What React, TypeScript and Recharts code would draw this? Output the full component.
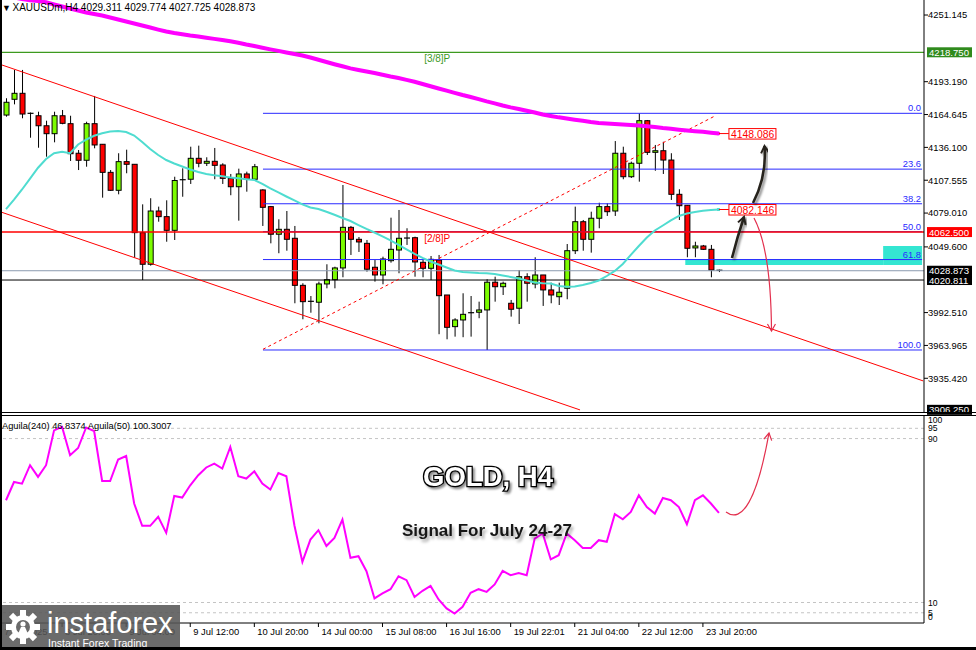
import {
  ComposedChart,
  Bar,
  Line,
  XAxis,
  YAxis,
  ReferenceLine,
  ReferenceArea,
  ReferenceDot,
} from "recharts";

const FONT = "'Liberation Sans', Arial, sans-serif";

// H4 candles
const opens = [
  4164.2, 4177.9, 4183.1, 4165.7, 4163.6, 4154.9, 4148.0, 4163.6, 4156.7, 4131.0,
  4124.9, 4156.7, 4138.8, 4114.4, 4098.8, 4123.7, 4121.4, 4062.0, 4034.5, 4080.8,
  4075.9, 4064.0, 4107.1, 4108.4, 4126.6, 4122.3, 4124.0, 4120.8, 4109.2, 4101.9,
  4113.0, 4108.4, 4099.1, 4084.6, 4060.6, 4064.9, 4057.1, 4016.2, 4002.3, 4001.5,
  4017.4, 4021.1, 4031.3, 4066.6, 4056.2, 4052.7, 4031.9, 4025.2, 4037.6, 4046.9,
  4057.3, 4057.6, 4036.2, 4031.0, 4038.2, 4007.8, 3980.3, 3986.1, 3992.4, 3992.8,
  3994.8, 4018.9, 4015.0, 4000.6, 3996.3, 4023.7, 4017.4, 4025.2, 4012.2, 4006.3,
  4013.6, 4046.3, 4071.5, 4056.2, 4074.5, 4084.6, 4080.8, 4131.0, 4110.6, 4122.3,
  4159.3, 4131.8, 4133.2, 4125.1, 4095.3, 4085.8, 4048.7, 4050.4, 4047.5, 4029.311,
];
const highs = [
  4178.8, 4203.4, 4203.4, 4166.4, 4167.1, 4159.3, 4167.1, 4168.6, 4163.6, 4133.8,
  4158.4, 4180.8, 4138.8, 4116.4, 4131.0, 4134.1, 4121.4, 4086.6, 4091.9, 4084.6,
  4090.1, 4110.6, 4117.9, 4136.7, 4137.6, 4127.5, 4135.6, 4122.3, 4113.0, 4117.6,
  4115.0, 4121.7, 4099.7, 4085.2, 4073.6, 4080.8, 4067.8, 4018.0, 4006.9, 4019.4,
  4034.5, 4032.4, 4103.4, 4067.8, 4058.2, 4055.6, 4038.2, 4041.1, 4075.0, 4081.7,
  4065.8, 4058.5, 4038.2, 4041.7, 4042.6, 4007.8, 3987.6, 4009.3, 4006.9, 4002.0,
  4021.5, 4023.7, 4019.4, 4003.5, 4029.5, 4026.7, 4040.6, 4025.2, 4018.5, 4018.5,
  4052.1, 4084.6, 4073.0, 4080.2, 4088.0, 4087.5, 4141.6, 4136.7, 4123.7, 4165.7,
  4159.9, 4138.2, 4141.0, 4131.0, 4099.7, 4086.0, 4054.1, 4051.3, 4051.3, 4029.774,
];
const lows = [
  4162.8, 4173.5, 4161.4, 4144.5, 4135.8, 4128.0, 4140.5, 4156.2, 4124.3, 4116.4,
  4119.3, 4135.3, 4092.4, 4098.2, 4095.3, 4113.6, 4040.2, 4020.8, 4033.3, 4071.5,
  4054.1, 4055.6, 4093.2, 4104.3, 4118.8, 4119.9, 4108.4, 4104.3, 4094.5, 4072.4,
  4097.6, 4107.5, 4067.8, 4052.7, 4044.1, 4046.3, 4000.6, 3986.7, 3992.4, 3983.2,
  4013.6, 4013.6, 4023.2, 4042.6, 4045.2, 4028.1, 4019.4, 4017.1, 4035.9, 4026.7,
  4051.3, 4023.7, 4023.2, 4020.8, 3973.7, 3969.3, 3971.6, 3971.1, 3971.6, 3987.6,
  3960.0, 4002.0, 4007.8, 3989.0, 3982.6, 4002.0, 4013.6, 3998.3, 4000.6, 3999.1,
  4004.1, 4043.4, 4046.3, 4044.6, 4065.8, 4076.5, 4076.5, 4108.4, 4109.5, 4106.3,
  4129.5, 4115.8, 4113.0, 4090.4, 4073.0, 4040.6, 4040.6, 4046.9, 4023.2, 4027.725,
];
const closes = [
  4175.3, 4183.1, 4165.1, 4164.9, 4154.9, 4148.0, 4163.6, 4157.0, 4130.6, 4124.9,
  4156.7, 4138.2, 4114.4, 4098.8, 4123.7, 4121.4, 4062.0, 4034.5, 4080.8, 4075.9,
  4064.0, 4107.3, 4108.0, 4126.6, 4122.3, 4124.0, 4120.5, 4109.2, 4101.9, 4113.0,
  4108.4, 4119.3, 4084.0, 4060.6, 4064.9, 4056.2, 4016.2, 4002.0, 4001.5, 4017.4,
  4021.1, 4031.3, 4066.6, 4056.2, 4053.9, 4030.2, 4025.2, 4039.1, 4047.5, 4057.1,
  4056.7, 4036.5, 4031.0, 4038.8, 4007.2, 3979.7, 3986.1, 3991.0, 3991.9, 3994.8,
  4018.9, 4015.0, 4018.0, 3995.4, 4023.7, 4018.0, 4025.2, 4012.2, 4007.8, 4010.2,
  4046.3, 4071.5, 4056.2, 4074.5, 4084.6, 4080.2, 4131.0, 4110.6, 4122.3, 4159.3,
  4131.8, 4133.2, 4125.1, 4095.3, 4085.4, 4048.4, 4050.4, 4047.5, 4029.5, 4028.873,
];

// fast MA (turquoise) and slow MA (magenta)
const maFast = [
  4082.5, 4090.6, 4099.5, 4109.0, 4118.4, 4126.0, 4131.0, 4132.3, 4131.0, 4138.6,
  4142.9, 4146.2, 4148.4, 4149.9, 4150.3, 4149.5, 4146.4, 4140.8, 4134.7, 4129.5,
  4125.1, 4122.1, 4119.5, 4116.9, 4114.7, 4113.0, 4111.8, 4111.0, 4109.9, 4109.2,
  4108.5, 4107.8, 4104.3, 4100.4, 4096.9, 4093.4, 4090.0, 4086.6, 4083.9, 4082.5,
  4080.1, 4077.5, 4074.7, 4072.1, 4068.6, 4065.2, 4062.1, 4058.7, 4055.2, 4051.3,
  4047.4, 4043.6, 4040.0, 4036.9, 4034.3, 4031.7, 4029.1, 4027.8, 4027.4, 4026.9,
  4026.8, 4026.1, 4024.8, 4023.5, 4022.2, 4020.4, 4018.7, 4018.0, 4017.8, 4015.6,
  4015.0, 4015.2, 4016.5, 4018.3, 4020.4, 4024.3, 4028.7, 4034.8, 4042.6, 4050.4,
  4057.8, 4063.9, 4068.2, 4072.6, 4076.5, 4078.6, 4079.9, 4081.0, 4081.7, 4082.1,
];
const maSlow = [
  4267.7, 4266.4, 4265.0, 4263.9, 4263.3, 4262.2, 4260.3, 4258.5, 4256.8, 4255.1,
  4253.3, 4252.0, 4250.7, 4249.0, 4247.2, 4245.5, 4243.8, 4242.0, 4240.3, 4238.5,
  4236.8, 4235.5, 4234.4, 4233.3, 4232.5, 4231.4, 4230.4, 4229.4, 4228.3, 4227.0,
  4225.5, 4224.2, 4222.7, 4221.3, 4220.0, 4218.6, 4217.3, 4215.9, 4214.2, 4212.3,
  4210.3, 4208.4, 4206.6, 4204.8, 4203.4, 4202.0, 4200.7, 4199.2, 4197.7, 4196.4,
  4194.8, 4193.1, 4191.2, 4189.2, 4187.3, 4185.4, 4183.5, 4181.6, 4179.9, 4178.0,
  4176.1, 4174.4, 4172.5, 4170.9, 4169.5, 4167.9, 4166.4, 4164.7, 4163.4, 4162.2,
  4161.2, 4160.2, 4159.3, 4158.2, 4157.3, 4156.8, 4156.4, 4156.0, 4155.6, 4155.1,
  4154.5, 4153.8, 4152.9, 4152.3, 4151.5, 4150.8, 4150.2, 4149.6, 4148.9, 4148.1,
];

// oscillator pane
const aguila = [
  59.9, 68.8, 68.0, 77.0, 71.3, 77.0, 94.0, 95.7, 81.9, 85.4,
  95.4, 93.7, 69.3, 69.3, 79.8, 81.5, 58.3, 47.4, 47.4, 51.8,
  44.0, 62.0, 61.2, 67.2, 72.1, 75.9, 77.8, 75.4, 85.9, 71.6,
  70.5, 74.0, 68.0, 65.1, 73.2, 71.6, 47.7, 29.8, 40.7, 45.3,
  37.6, 41.5, 50.5, 31.8, 32.6, 25.3, 12.0, 14.4, 16.5, 22.8,
  20.9, 12.7, 15.7, 18.1, 11.5, 7.1, 4.6, 7.9, 14.7, 16.5,
  15.2, 18.8, 25.4, 23.3, 24.4, 23.3, 41.2, 43.7, 31.1, 33.1,
  43.7, 40.4, 36.6, 36.6, 40.4, 39.6, 53.1, 50.6, 54.2, 62.3,
  56.6, 53.4, 61.0, 59.9, 56.6, 48.2, 59.9, 62.3, 58.3, 53.7,
];

const priceTicks = [4251.145, 4193.19, 4164.645, 4136.1, 4107.555, 4079.01, 4049.6, 3992.51, 3963.965, 3935.42];
const priceTags = [4218.75, 4062.5, 4028.873, 4020.811, 3906.25];
const maTags = [4148.086, 4082.146];

const fibLevels = [4165.7, 4117.2, 4087.1, 4062.8, 4038.6, 3960.0];
const fibLabels = ["0.0", "23.6", "38.2", "50.0", "61.8", "100.0"];
const fibStart = 32.08;
const fibEnd = 114.36;

// channel + trend line end points [x1, y1, x2, y2] in bars / price
const channelUpper = [-0.75, 4208.3, 114.5, 3933.1];
const channelLower = [-0.75, 4080.2, 71.66, 3907.9];
const trendDotted = [32.08, 3960.6, 88.5, 4163.4];

// support zone [x1, x2, y1, y2]
const zoneThin = [84.8, 109.5, 4033.9, 4039.1];
const zoneTall = [109.5, 114.36, 4033.9, 4050.4];

const murrayLevels = [4218.75, 4062.5];
const murrayLabels = ["[3/8]P", "[2/8]P"];
const murrayLabelBar = 52.2;

const dateTicks = [-0.6, 7, 15, 23, 31, 39, 47, 55, 63, 71, 79, 87];
const dateLabels = [
  "7 Jul 2025", "8 Jul 20:00", "9 Jul 04:00", "9 Jul 12:00", "10 Jul 20:00", "14 Jul 00:00",
  "15 Jul 08:00", "16 Jul 16:00", "19 Jul 22:01", "21 Jul 04:00", "22 Jul 12:00", "23 Jul 20:00",
];
const oscTicks = [0, 5, 10, 90, 95, 100];
const oscGuides = [5, 10, 90, 95];

const tagColors = ["#2f8a1c", "#ff0000", "#000000", "#000000", "#000000"];
const tagShift = [0, 0, 0, 0, -2];
const murrayColors = ["#3d9a1f", "#ff0000"];
const FIB = "#2a2aff";
const X_DOMAIN: [number, number] = [-0.75, 114.6];

const bars = opens.map((o, i) => ({
  i,
  o,
  h: highs[i],
  l: lows[i],
  c: closes[i],
  range: [lows[i], highs[i]],
  maFast: maFast[i],
  maSlow: maSlow[i],
  aguila: aguila[i],
}));

function Candle(props: any) {
  const { x, y, width, height, payload } = props;
  if (x == null || !payload) return null;
  const { o, h, l, c } = payload;
  const top = Math.min(y, y + height);
  const hh = Math.abs(height);
  const py = (v: number) => (h === l ? top : top + ((h - v) / (h - l)) * hh);
  const cx = x + width / 2;
  const bt = py(Math.max(o, c));
  const bb = py(Math.min(o, c));
  const up = c >= o;
  return (
    <g>
      <line x1={cx} x2={cx} y1={top} y2={top + hh} stroke="#000" strokeWidth={1} />
      {bb - bt < 1.2 ? (
        <line x1={cx - 3} x2={cx + 3} y1={bt} y2={bt} stroke="#000" strokeWidth={1.2} />
      ) : (
        <rect x={cx - 2.5} y={bt} width={5} height={bb - bt} fill={up ? "#7cfc00" : "#ff0000"} stroke="#000" strokeWidth={1} />
      )}
    </g>
  );
}

const priceTag = (text: string, bg: string, shift: number) => (p: any) => (
  <g>
    <rect x={p.cx + 3} y={p.cy - 5 + shift} width={45} height={10} fill={bg} />
    <text x={p.cx + 5} y={p.cy + 3.5 + shift} fontSize={9.6} fill="#fff" fontFamily={FONT}>
      {text}
    </text>
  </g>
);

const maTag = (text: string, dotColor: string) => (p: any) => (
  <g>
    <rect x={p.cx - 2} y={p.cy - 1.5} width={3} height={3} fill={dotColor} />
    <line x1={p.cx} x2={p.cx + 10} y1={p.cy} y2={p.cy} stroke="#ff0000" />
    <rect x={p.cx + 10} y={p.cy - 5} width={47} height={10.5} fill="#fff" stroke="#ff0000" />
    <text x={p.cx + 12} y={p.cy + 4} fontSize={10.4} fill="#ff0000" fontFamily={FONT}>
      {text}
    </text>
  </g>
);

const fibTag = (text: string) => (p: any) => (
  <text x={p.cx - 1} y={p.cy - 2} textAnchor="end" fontSize={9.4} fill={FIB} fontFamily={FONT}>
    {text}
  </text>
);

const murrayTag = (text: string, color: string) => (p: any) => (
  <text x={p.cx} y={p.cy + 10} fontSize={10} fill={color} fontFamily={FONT}>
    {text}
  </text>
);

function DateTick(props: any) {
  const { x, payload } = props;
  const k = dateTicks.indexOf(payload.value);
  return (
    <g>
      <line x1={x} x2={x} y1={208} y2={212} stroke="#000" />
      <text x={x + 3} y={220} fontSize={9.4} fill="#000" fontFamily={FONT}>
        {dateLabels[k]}
      </text>
    </g>
  );
}

function OscTick(props: any) {
  const { x, y, payload } = props;
  const v = payload.value;
  const dy = v === 100 ? 5 : v === 0 ? -3 : 3;
  return (
    <text x={x} y={y + dy} fontSize={8.6} fill="#000" fontFamily={FONT}>
      {v}
    </text>
  );
}

function PriceChart() {
  return (
    <ComposedChart width={976} height={420} data={bars} margin={{ top: 0, right: 0, left: 0, bottom: 8 }}>
      <XAxis dataKey="i" type="number" domain={X_DOMAIN} hide allowDataOverflow />
      <YAxis
        orientation="right"
        width={52}
        domain={[3906.1, 4264.2]}
        ticks={priceTicks}
        interval={0}
        allowDataOverflow
        tickFormatter={(v: number) => v.toFixed(3)}
        tick={{ fontSize: 9.4, fill: "#000", fontFamily: FONT, textAnchor: "start" }}
        tickSize={4}
        tickMargin={0}
        tickLine={{ stroke: "#000" }}
        axisLine={{ stroke: "#000" }}
      />
      <ReferenceArea x1={zoneThin[0]} x2={zoneThin[1]} y1={zoneThin[2]} y2={zoneThin[3]} fill="#34e6d2" fillOpacity={1} stroke="none" />
      <ReferenceArea x1={zoneTall[0]} x2={zoneTall[1]} y1={zoneTall[2]} y2={zoneTall[3]} fill="#34e6d2" fillOpacity={1} stroke="none" />
      <ReferenceLine y={murrayLevels[0]} stroke={murrayColors[0]} strokeWidth={1.2} />
      {fibLevels.map((lv) => (
        <ReferenceLine key={lv} segment={[{ x: fibStart, y: lv }, { x: fibEnd, y: lv }]} stroke={FIB} strokeWidth={1} />
      ))}
      <ReferenceLine y={murrayLevels[1]} stroke={murrayColors[1]} strokeWidth={1.6} />
      <ReferenceLine y={priceTags[2]} stroke="#8b9bb0" strokeWidth={1} />
      <ReferenceLine y={priceTags[3]} stroke="#000" strokeWidth={1} />
      <ReferenceLine
        segment={[{ x: channelUpper[0], y: channelUpper[1] }, { x: channelUpper[2], y: channelUpper[3] }]}
        stroke="#ff0000"
        strokeWidth={1}
        ifOverflow="visible"
      />
      <ReferenceLine
        segment={[{ x: channelLower[0], y: channelLower[1] }, { x: channelLower[2], y: channelLower[3] }]}
        stroke="#ff0000"
        strokeWidth={1}
        ifOverflow="visible"
      />
      <ReferenceLine
        segment={[{ x: trendDotted[0], y: trendDotted[1] }, { x: trendDotted[2], y: trendDotted[3] }]}
        stroke="#ff0000"
        strokeWidth={1}
        strokeDasharray="3 3"
      />
      <Line dataKey="maSlow" stroke="#ff00ff" strokeWidth={4} dot={false} type="linear" isAnimationActive={false} />
      <Line dataKey="maFast" stroke="#4fdcd0" strokeWidth={2} dot={false} type="linear" isAnimationActive={false} />
      <Bar dataKey="range" barSize={5} shape={(p: any) => <Candle {...p} />} isAnimationActive={false} />
      {fibLevels.map((lv, k) => (
        <ReferenceDot key={"f" + k} x={fibEnd} y={lv} r={0} shape={fibTag(fibLabels[k])} />
      ))}
      {murrayLevels.map((lv, k) => (
        <ReferenceDot key={"m" + k} x={murrayLabelBar} y={lv} r={0} shape={murrayTag(murrayLabels[k], murrayColors[k])} />
      ))}
      <ReferenceDot x={89} y={maSlow[89]} r={0} shape={maTag(maTags[0].toFixed(3), "#ff00ff")} />
      <ReferenceDot x={89} y={maFast[89]} r={0} shape={maTag(maTags[1].toFixed(3), "#4fdcd0")} />
      {priceTags.map((v, k) => (
        <ReferenceDot
          key={"t" + k}
          x={X_DOMAIN[1]}
          y={v}
          r={0}
          ifOverflow="visible"
          shape={priceTag(v.toFixed(3), tagColors[k], tagShift[k])}
        />
      ))}
    </ComposedChart>
  );
}

function OscChart() {
  return (
    <ComposedChart width={976} height={235} data={bars} margin={{ top: 0, right: 0, left: 0, bottom: 0 }}>
      <XAxis
        dataKey="i"
        type="number"
        domain={X_DOMAIN}
        allowDataOverflow
        ticks={dateTicks}
        interval={0}
        height={27}
        tick={(p: any) => <DateTick {...p} />}
        tickLine={false}
        axisLine={{ stroke: "#000" }}
      />
      <YAxis
        orientation="right"
        width={52}
        domain={[0, 101.5]}
        ticks={oscTicks}
        interval={0}
        allowDataOverflow
        tick={(p: any) => <OscTick {...p} />}
        tickLine={false}
        tickSize={0}
        tickMargin={4}
        axisLine={{ stroke: "#000" }}
      />
      {oscGuides.map((g) => (
        <ReferenceLine key={g} y={g} stroke="#c4c4c4" strokeDasharray="3 3" />
      ))}
      <Line dataKey="aguila" stroke="#ff00ff" strokeWidth={2} dot={false} type="linear" isAnimationActive={false} />
    </ComposedChart>
  );
}

function Overlay() {
  return (
    <svg width={976} height={650} style={{ position: "absolute", left: 0, top: 0, pointerEvents: "none" }}>
      <defs>
        <marker id="headDark" markerWidth={12} markerHeight={12} refX={9} refY={6} orient="auto" markerUnits="userSpaceOnUse">
          <path d="M2,2 L9,6 L2,10" fill="none" stroke="#26241c" strokeWidth={2} />
        </marker>
        <marker id="headRed" markerWidth={12} markerHeight={12} refX={9} refY={6} orient="auto" markerUnits="userSpaceOnUse">
          <path d="M2,2 L9,6 L2,10" fill="none" stroke="#e3304e" strokeWidth={1.2} />
        </marker>
        <filter id="soft" x="-20%" y="-20%" width="140%" height="140%">
          <feDropShadow dx={2} dy={2} stdDeviation={1.3} floodColor="#000" floodOpacity={0.45} />
        </filter>
        <filter id="softLight" x="-20%" y="-40%" width="140%" height="180%">
          <feDropShadow dx={2} dy={3} stdDeviation={1.6} floodColor="#000" floodOpacity={0.35} />
        </filter>
      </defs>
      <text x={2} y={11} fontSize={9} fontFamily={FONT} fill="#000">▼</text>
      <text x={12.5} y={11} fontSize={10} fontFamily={FONT} fill="#000">
        XAUUSDm,H4  4029.311 4029.774 4027.725 4028.873
      </text>
      <text x={2} y={429} fontSize={9.3} fontFamily={FONT} fill="#000">
        Aguila(240) 46.8374  Aguila(50) 100.3007
      </text>
      <path d="M732,258 Q737,238 744,217" stroke="#26241c" strokeWidth={2.6} fill="none" markerEnd="url(#headDark)" filter="url(#soft)" />
      <path d="M753,203 Q767,176 764.5,146" stroke="#26241c" strokeWidth={2.6} fill="none" markerEnd="url(#headDark)" filter="url(#soft)" />
      <path d="M754,218 Q771,250 771.5,331" stroke="#e3304e" strokeWidth={1.2} fill="none" markerEnd="url(#headRed)" />
      <path d="M726,512 C742,524 757,500 769,433" stroke="#e3304e" strokeWidth={1.2} fill="none" markerEnd="url(#headRed)" />
      <text
        x={488}
        y={486}
        textAnchor="middle"
        fontSize={27.5}
        fontWeight="bold"
        fontFamily={FONT}
        fill="#fff"
        stroke="#000"
        strokeWidth={2.6}
        paintOrder="stroke"
        filter="url(#soft)"
      >
        GOLD, H4
      </text>
      <text x={487} y={536} textAnchor="middle" fontSize={17} fontWeight="bold" fontFamily={FONT} fill="#141414" filter="url(#softLight)">
        Signal For July 24-27
      </text>
    </svg>
  );
}

function Logo() {
  const teeth = [0, 45, 90, 135, 180, 225, 270, 315];
  return (
    <div style={{ position: "absolute", left: 0, top: 605, width: 180, height: 45, background: "rgba(86,86,86,0.88)" }}>
      <svg width={180} height={45} style={{ position: "absolute", left: 0, top: 0 }}>
        <g transform="translate(23,22)">
          {teeth.map((a) => (
            <rect key={a} x={-3} y={-17} width={6} height={7} fill="#fff" transform={`rotate(${a})`} />
          ))}
          <circle r={12} fill="#fff" />
          <circle r={7} fill="#6a6a6a" />
          <circle cx={0} cy={-3} r={2.6} fill="#fff" />
          <path d="M-5,7 L-2,0 L2,0 L5,7 Z" fill="#fff" />
        </g>
        <text x={47} y={28} fontSize={29} fontFamily={FONT} fill="#fff">instaforex</text>
        <text x={48} y={42} fontSize={10.5} fontFamily={FONT} fill="#fff">Instant Forex Trading</text>
      </svg>
    </div>
  );
}

export default function App() {
  return (
    <div style={{ position: "relative", width: 976, height: 650, background: "#fff", overflow: "hidden", fontFamily: FONT }}>
      <style>{"body{margin:0}"}</style>
      <div style={{ position: "absolute", left: 0, top: 0 }}>
        <PriceChart />
      </div>
      <div style={{ position: "absolute", left: 0, top: 411.5, width: 976, height: 1, background: "#000" }} />
      <div style={{ position: "absolute", left: 0, top: 414.5, width: 976, height: 1, background: "#000" }} />
      <div style={{ position: "absolute", left: 0, top: 415 }}>
        <OscChart />
      </div>
      <Overlay />
      <Logo />
      <div style={{ position: "absolute", left: 0, top: 0, width: 2, height: 650, background: "#000" }} />
      <div style={{ position: "absolute", left: 0, top: 647, width: 976, height: 3, background: "#000" }} />
    </div>
  );
}
